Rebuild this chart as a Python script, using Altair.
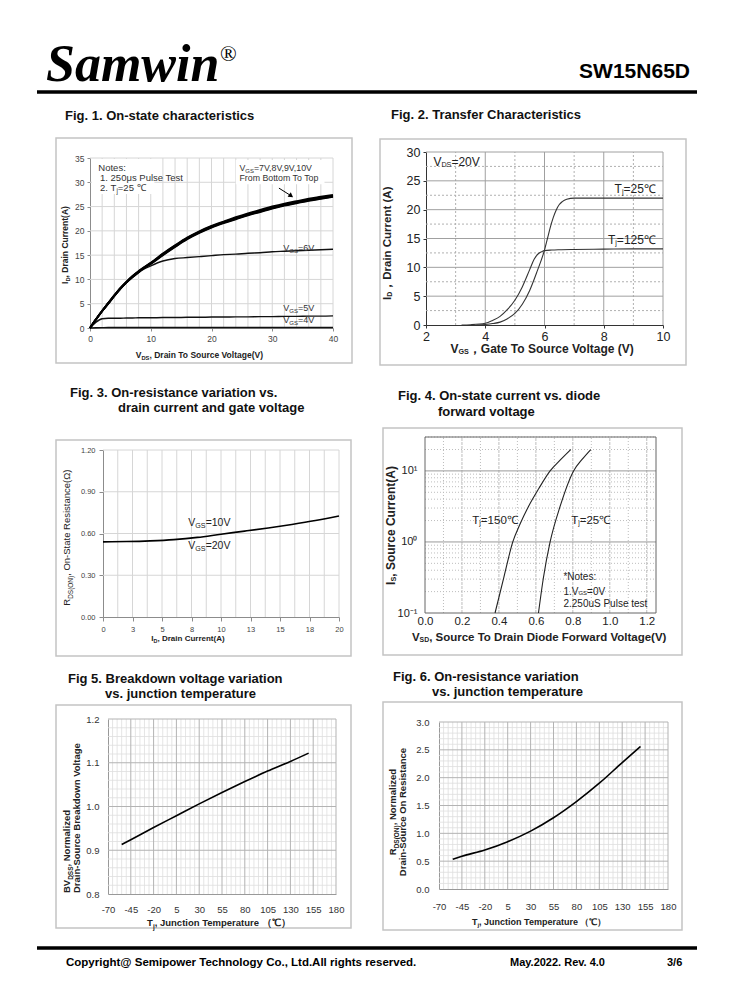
import altair as alt
import pandas as pd

FONT = "Liberation Sans"
SERIF = "Liberation Serif"

# ---------------- Fig. 1  On-state characteristics ----------------
VDS = [0, 1, 2, 3, 4, 5, 6, 7, 8, 9, 10, 12, 14, 16, 18, 20, 22, 24, 26, 28, 30, 32, 34, 36, 38, 40]
ID_VGS10 = [0, 1.8, 3.5, 5.1, 6.7, 8.2, 9.5, 10.7, 11.7, 12.6, 13.4, 15.3, 17.0, 18.6, 19.9, 21.0, 21.9, 22.8, 23.6, 24.3, 25.0, 25.6, 26.1, 26.6, 27.0, 27.4]
ID_VGS9 = [0, 1.8, 3.5, 5.1, 6.7, 8.2, 9.5, 10.6, 11.6, 12.5, 13.3, 15.2, 16.9, 18.5, 19.8, 20.9, 21.8, 22.6, 23.4, 24.1, 24.8, 25.4, 25.9, 26.4, 26.8, 27.2]
ID_VGS8 = [0, 1.8, 3.5, 5.1, 6.6, 8.1, 9.4, 10.6, 11.6, 12.5, 13.3, 15.1, 16.8, 18.4, 19.7, 20.8, 21.7, 22.5, 23.3, 24.0, 24.7, 25.3, 25.8, 26.3, 26.7, 27.1]
ID_VGS7 = [0, 1.8, 3.5, 5.0, 6.6, 8.1, 9.4, 10.5, 11.5, 12.4, 13.2, 15.0, 16.7, 18.3, 19.6, 20.7, 21.6, 22.4, 23.2, 23.9, 24.6, 25.2, 25.7, 26.2, 26.6, 27.0]
ID_VGS6 = [0, 1.8, 3.5, 5.0, 6.6, 8.0, 9.3, 10.4, 11.4, 12.2, 12.8, 13.8, 14.3, 14.5, 14.7, 14.9, 15.1, 15.2, 15.4, 15.5, 15.7, 15.8, 15.9, 16.0, 16.1, 16.2]
ID_VGS5 = [0, 1.2, 1.9, 2.0, 2.0, 2.0, 2.05, 2.05, 2.1, 2.1, 2.1, 2.15, 2.15, 2.2, 2.2, 2.25, 2.25, 2.3, 2.3, 2.35, 2.35, 2.4, 2.4, 2.45, 2.45, 2.5]
ID_VGS4 = [0, 0.05, 0.08, 0.1, 0.1, 0.1, 0.1, 0.1, 0.1, 0.1, 0.1, 0.1, 0.1, 0.1, 0.1, 0.1, 0.1, 0.1, 0.1, 0.1, 0.1, 0.1, 0.1, 0.1, 0.1, 0.1]
F1_XTICKS = [0, 10, 20, 30, 40]
F1_YTICKS = [0, 5, 10, 15, 20, 25, 30, 35]
F1_XGRID = [2, 4, 6, 8, 10, 12, 14, 16, 18, 20, 22, 24, 26, 28, 30, 32, 34, 36, 38, 40]
F1_YGRID = [5, 10, 15, 20, 25, 30, 35]

# ---------------- Fig. 2  Transfer characteristics ----------------
VGS_25C = [3.7, 4.0, 4.25, 4.5, 4.75, 5.0, 5.25, 5.5, 5.75, 6.0, 6.1, 6.2, 6.3, 6.4, 6.5, 6.6, 6.75, 7.0, 7.5, 8.0, 9.0, 10.0]
ID_25C = [0, 0.1, 0.25, 0.5, 1.1, 2.0, 3.6, 6.0, 9.3, 13.0, 15.0, 17.0, 18.7, 20.0, 20.9, 21.4, 21.8, 22.0, 22.0, 22.0, 22.0, 22.0]
VGS_125C = [3.2, 3.5, 4.0, 4.25, 4.5, 4.75, 5.0, 5.25, 5.5, 5.65, 5.8, 5.9, 6.0, 6.25, 6.5, 7.0, 8.0, 9.0, 10.0]
ID_125C = [0, 0.05, 0.3, 0.8, 1.5, 2.7, 4.3, 6.6, 9.6, 11.4, 12.4, 12.7, 12.9, 13.0, 13.05, 13.1, 13.15, 13.2, 13.2]
F2_XTICKS = [2, 4, 6, 8, 10]
F2_YTICKS = [0, 5, 10, 15, 20, 25, 30]
F2_XMAJOR = [4, 6, 8, 10]
F2_XMINOR = [3, 5, 7, 9]
F2_YMAJOR = [5, 10, 15, 20, 25, 30]
F2_YMINOR = [2.5, 7.5, 12.5, 17.5, 22.5, 27.5]

# ---------------- Fig. 3  On-resistance vs drain current ----------------
ID3 = [0, 2, 4, 6, 8, 10, 12, 14, 16, 18, 20]
RDS3 = [0.540, 0.542, 0.547, 0.556, 0.572, 0.595, 0.617, 0.640, 0.665, 0.693, 0.726]
F3_XTICKS = [0, 2.5, 5, 7.5, 10, 12.5, 15, 17.5, 20]
F3_YTICKS = [0, 0.3, 0.6, 0.9, 1.2]
F3_XGRID = [1.25, 2.5, 3.75, 5, 6.25, 7.5, 8.75, 10, 11.25, 12.5, 13.75, 15, 16.25, 17.5, 18.75, 20]
F3_YGRID = [0.3, 0.6, 0.9, 1.2]

# ---------------- Fig. 4  Diode forward voltage ----------------
VSD_150C = [0.379, 0.427, 0.475, 0.515, 0.56, 0.615, 0.677, 0.735, 0.789]
IS_150C = [0.1, 0.32, 1.0, 1.8, 3.16, 5.6, 10.0, 14.5, 20.0]
VSD_25C = [0.614, 0.641, 0.677, 0.731, 0.804, 0.85, 0.897]
IS_25C = [0.1, 0.316, 1.0, 3.16, 10.0, 14.5, 20.0]
F4_XTICKS = [0, 0.2, 0.4, 0.6, 0.8, 1.0, 1.2]
F4_YTICKS = [0.1, 1, 10]
F4_XMAJOR = [0.2, 0.4, 0.6, 0.8, 1.0, 1.2]
F4_XMINOR = [0.1, 0.3, 0.5, 0.7, 0.9, 1.1]
F4_YMAJOR = [1, 10]
F4_YMINOR = [0.2, 0.3, 0.4, 0.5, 0.6, 0.7, 0.8, 0.9, 2, 3, 4, 5, 6, 7, 8, 9, 20, 30]

# ---------------- Fig. 5 / Fig. 6  vs junction temperature ----------------
TJ = [-55, -45, -20, 5, 30, 55, 80, 105, 130, 150]
BV_NORM = [0.913, 0.924, 0.952, 0.979, 1.006, 1.032, 1.057, 1.081, 1.103, 1.122]
RDS_NORM = [0.535, 0.59, 0.70, 0.85, 1.04, 1.28, 1.57, 1.90, 2.27, 2.56]
T_TICKS = [-70, -45, -20, 5, 30, 55, 80, 105, 130, 155, 180]
T_MAJOR = [-45, -20, 5, 30, 55, 80, 105, 130, 155, 180]
T_MINOR = [t for t in range(-65, 180, 5) if (t + 70) % 25 != 0]
F5_YTICKS = [0.8, 0.9, 1.0, 1.1, 1.2]
F5_YMAJOR = [0.9, 1.0, 1.1, 1.2]
F5_YMINOR = [0.82, 0.84, 0.86, 0.88, 0.92, 0.94, 0.96, 0.98, 1.02, 1.04, 1.06, 1.08, 1.12, 1.14, 1.16, 1.18]
F6_YTICKS = [0, 0.5, 1.0, 1.5, 2.0, 2.5, 3.0]
F6_YMAJOR = [0.5, 1.0, 1.5, 2.0, 2.5, 3.0]
F6_YMINOR = [0.1, 0.2, 0.3, 0.4, 0.6, 0.7, 0.8, 0.9, 1.1, 1.2, 1.3, 1.4, 1.6, 1.7, 1.8, 1.9, 2.1, 2.2, 2.3, 2.4, 2.6, 2.7, 2.8, 2.9]

ONE = pd.DataFrame({"k": [0]})

# ---------- text width table (Arial metrics) for composed sub-scripted text ----------
REG_W, BOLD_W = {}, {}
for chars, w in [("ijl", .222), (" !,./:ftI", .278), ("()-r", .333), ("ckvxyzsJ", .5),
                 ("0123456789abdeghnopquLμ", .556), ("=+", .584), ("FTZ", .611),
                 ("ABEKPSVXY", .667), ("CDHNRUw", .722), ("GOQ", .778), ("Mm", .833),
                 ("W", .944), ("@", 1.015), ("Ω", .768), ("*", .389)]:
    for ch in chars:
        REG_W[ch] = w
for chars, w in [(" !,.:/iljI", .278), ("()-ft", .333), ("r*", .389), ("z", .5),
                 ("0123456789aceksvxyJ", .556), ("=+", .584), ("bdghnopquFLTZ", .611),
                 ("EPSVXY", .667), ("ABCDHKNRU", .722), ("GOQw", .778), ("M", .833),
                 ("m", .889), ("W", .944), ("@", .975), ("Ω", .768)]:
    for ch in chars:
        BOLD_W[ch] = w


def text_w(s, size, bold):
    tbl = BOLD_W if bold else REG_W
    return size * sum(tbl.get(ch, 1.0 if ord(ch) > 0x2000 else 0.58) for ch in s)


def rich(parts, size, src, enc, bold=False, color="#222", align="left", angle=None,
         sub=0.68, subdy=0.22, font=FONT):
    sizes = [size * (sub if s else 1.0) for _, s in parts]
    widths = [text_w(t, fs, bold) for (t, _), fs in zip(parts, sizes)]
    total = sum(widths)
    off = {"left": 0.0, "center": -total / 2, "right": -total}[align]
    out = []
    for (t, s), fs, w in zip(parts, sizes, widths):
        kw = dict(text=t, align="left", baseline="alphabetic", dx=round(off, 2),
                  dy=round(0.36 * size + (subdy * size if s else 0), 2), fontSize=round(fs, 2),
                  font=font, color=color, fontWeight="bold" if bold else "normal")
        if angle is not None:
            kw["angle"] = angle
        out.append(alt.Chart(src).mark_text(**kw).encode(**enc))
        off += w
    return out


class Panel:
    """Scales and axes shared by every layer of one figure (identical axis specs merge cleanly)."""

    def __init__(self, xdom, xrng, ydom, yrng, ax, ay, ytype=None):
        self.sx = alt.Scale(domain=xdom, range=xrng, nice=False, zero=False)
        if ytype:
            self.sy = alt.Scale(type=ytype, domain=ydom, range=yrng, nice=False)
        else:
            self.sy = alt.Scale(domain=ydom, range=yrng, nice=False, zero=False)
        self.ax, self.ay = ax, ay

    def X(self, f="x"):
        return alt.X(f"{f}:Q", scale=self.sx, axis=self.ax)

    def Y(self, f="y"):
        return alt.Y(f"{f}:Q", scale=self.sy, axis=self.ay)


def plab(parts, size, x, y, **kw):
    return rich(parts, size, ONE, {"x": alt.value(x), "y": alt.value(y)}, **kw)


def dlab(P, parts, size, x, y, **kw):
    src = pd.DataFrame({"x": [x], "y": [y]})
    return rich(parts, size, src, {"x": P.X(), "y": P.Y()}, **kw)


def frame(x0, y0, x1, y1):
    return alt.Chart(ONE).mark_rect(fillOpacity=0, stroke="#c4c4c4", strokeWidth=1.5).encode(
        x=alt.value(x0), x2=alt.value(x1), y=alt.value(y0), y2=alt.value(y1))


def vgrid(P, vals, ylo, yhi, color, width=1.0, dash=None):
    kw = dict(color=color, strokeWidth=width)
    if dash:
        kw["strokeDash"] = dash
    df = pd.DataFrame({"x": vals, "y": [ylo] * len(vals), "y2": [yhi] * len(vals)})
    return alt.Chart(df).mark_rule(**kw).encode(x=P.X(), y=P.Y(), y2="y2")


def hgrid(P, vals, xlo, xhi, color, width=1.0, dash=None):
    kw = dict(color=color, strokeWidth=width)
    if dash:
        kw["strokeDash"] = dash
    df = pd.DataFrame({"y": vals, "x": [xlo] * len(vals), "x2": [xhi] * len(vals)})
    return alt.Chart(df).mark_rule(**kw).encode(y=P.Y(), x=P.X(), x2="x2")


def dbox(P, x0, x1, y0, y1, fill="white", stroke=None):
    kw = dict(color=fill) if stroke is None else dict(fillOpacity=0, stroke=stroke, strokeWidth=1)
    df = pd.DataFrame({"x": [x0], "x2": [x1], "y": [y0], "y2": [y1]})
    return alt.Chart(df).mark_rect(**kw).encode(x=P.X(), x2="x2", y=P.Y(), y2="y2")


def lines(P, pairs, color, width):
    rows = []
    for name, xs, ys in pairs:
        rows += [{"x": a, "y": b, "s": name} for a, b in zip(xs, ys)]
    return alt.Chart(pd.DataFrame(rows)).mark_line(
        color=color, strokeWidth=width, interpolate="monotone").encode(
        x=P.X(), y=P.Y(), detail="s:N")


def axis(values, size, color, dcolor, tick, pad, offset, fmt=None, expr=None, domain=True):
    kw = dict(values=values, title=None, grid=False, labelFont=FONT, labelFontSize=size,
              labelColor=color, tickColor=dcolor, tickSize=tick, labelPadding=pad,
              domainColor=dcolor, labelFlush=False, labelOverlap=False, offset=offset)
    if tick == 0:
        kw["ticks"] = False
    if fmt:
        kw["format"] = fmt
    if expr:
        kw["labelExpr"] = expr
    if not domain:
        kw["domain"] = False
    return alt.Axis(**kw)


TITLE = 13
LW, RW = 360, 362          # column cell widths
H1, H2, H3 = 270, 295, 275  # row cell heights
PLAIN = "'' + datum.value"  # hyphen minus for negative temperatures

# ======================= Fig. 1 =======================
P = Panel([0, 40], [82, 325], [0, 35], [228, 58],
          axis(F1_XTICKS, 8.5, "#444", "#8c8c8c", 3, 3, 228 - H1),
          axis(F1_YTICKS, 8.5, "#444", "#8c8c8c", 3, 3, -82))
L1 = [frame(48, 38, 344, 263)]
L1 += plab([("Fig. 1. On-state characteristics", 0)], TITLE, 57, 15, bold=True, color="#111")
L1 += [vgrid(P, F1_XGRID, 0, 35, "#d6d6d6"), hgrid(P, F1_YGRID, 0, 40, "#d6d6d6")]
L1 += [dbox(P, 0.3, 10.6, 27.6, 34.8), dbox(P, 24.0, 38.6, 29.6, 34.6)]
L1 += [lines(P, [("4V", VDS, ID_VGS4), ("5V", VDS, ID_VGS5), ("6V", VDS, ID_VGS6)], "#111", 1.4)]
L1 += [lines(P, [("7V", VDS, ID_VGS7), ("8V", VDS, ID_VGS8), ("9V", VDS, ID_VGS9),
                 ("10V", VDS, ID_VGS10)], "#000", 2.0)]
L1 += dlab(P, [("Notes:", 0)], 9.5, 1.37, 33.1, color="#333")
L1 += dlab(P, [("1. 250μs  Pulse Test", 0)], 9.5, 1.65, 31.0, color="#333")
L1 += dlab(P, [("2. T", 0), ("j", 1), ("=25 ℃", 0)], 9.5, 1.65, 28.9, color="#333")
L1 += dlab(P, [("V", 0), ("GS", 1), ("=7V,8V,9V,10V", 0)], 8.8, 24.6, 33.0, color="#333")
L1 += dlab(P, [("From Bottom To Top", 0)], 8.8, 24.6, 30.9, color="#333")
L1 += [alt.Chart(pd.DataFrame({"x": [31.1], "y": [28.8], "x2": [33.0], "y2": [27.3]})).mark_rule(
    color="#000", strokeWidth=1).encode(x=P.X(), x2="x2", y=P.Y(), y2="y2"),
       alt.Chart(pd.DataFrame({"x": [33.0], "y": [27.3]})).mark_point(
    shape="triangle", filled=True, size=30, angle=125, color="#000", opacity=1).encode(x=P.X(), y=P.Y())]
L1 += dlab(P, [("V", 0), ("GS", 1), ("=6V", 0)], 9, 31.8, 16.6, color="#333")
L1 += dlab(P, [("V", 0), ("GS", 1), ("=5V", 0)], 9, 31.8, 4.2, color="#333")
L1 += dlab(P, [("V", 0), ("GS", 1), ("=4V", 0)], 9, 31.8, 1.65, color="#333")
L1 += plab([("V", 0), ("DS", 1), (", Drain To Source Voltage(V)", 0)], 8.5, 192, 255, bold=True, align="center")
L1 += plab([("I", 0), ("D", 1), (", Drain Current(A)", 0)], 8.5, 57, 145, bold=True, align="center", angle=270)
P1 = alt.layer(*L1).properties(width=LW, height=H1)

# ======================= Fig. 2 =======================
P = Panel([2, 10], [58, 295], [0, 30], [225, 52],
          axis(F2_XTICKS, 12.5, "#222", "#333", 3, 2, 225 - H1),
          axis(F2_YTICKS, 12.5, "#222", "#333", 3, 3, -58))
L2 = [frame(12, 39, 318, 265)]
L2 += plab([("Fig. 2. Transfer Characteristics", 0)], TITLE, 23, 14, bold=True, color="#111")
L2 += [vgrid(P, F2_XMINOR, 0, 30, "#b0b0b0", 1, [2, 2]), hgrid(P, F2_YMINOR, 2, 10, "#b0b0b0", 1, [2, 2]),
       vgrid(P, F2_XMAJOR, 0, 30, "#a0a0a0"), hgrid(P, F2_YMAJOR, 2, 10, "#a0a0a0")]
L2 += [lines(P, [("25C", VGS_25C, ID_25C), ("125C", VGS_125C, ID_125C)], "#333", 1.1)]
L2 += dlab(P, [("V", 0), ("DS", 1), ("=20V", 0)], 12, 2.25, 28.3, sub=0.6, subdy=0.05)
L2 += dlab(P, [("T", 0), ("j", 1), ("=25℃", 0)], 12, 9.76, 23.7, align="right", sub=0.6, subdy=0.1)
L2 += dlab(P, [("T", 0), ("j", 1), ("=125℃", 0)], 12, 9.76, 14.86, align="right", sub=0.6, subdy=0.1)
L2 += plab([("V", 0), ("GS", 1), ("，Gate To Source Voltage (V)", 0)], 12, 175, 249, bold=True,
           align="center", sub=0.6, subdy=0.05)
L2 += plab([("I", 0), ("D", 1), ("，Drain Current (A)", 0)], 11.5, 19, 143.5, bold=True,
           align="center", angle=270, sub=0.6, subdy=0.05)
P2 = alt.layer(*L2).properties(width=RW, height=H1)

# ======================= Fig. 3 =======================
P = Panel([0, 20], [95, 331], [0, 1.2], [247, 80],
          axis(F3_XTICKS, 7.5, "#444", "#8c8c8c", 4, 4, 247 - H2, fmt=".0f"),
          axis(F3_YTICKS, 7.5, "#444", "#8c8c8c", 4, 4, -95, fmt=".2f"))
L3 = [frame(48, 70, 343, 286)]
L3 += plab([("Fig. 3. On-resistance variation vs.", 0)], TITLE, 62, 22, bold=True, color="#111")
L3 += plab([("drain current and gate voltage", 0)], TITLE, 110, 37, bold=True, color="#111")
L3 += [vgrid(P, F3_XGRID, 0, 1.2, "#d6d6d6"), hgrid(P, F3_YGRID, 0, 20, "#d6d6d6")]
L3 += [lines(P, [("10V", ID3, RDS3)], "#000", 1.6)]
L3 += dlab(P, [("V", 0), ("GS", 1), ("=10V", 0)], 10.5, 7.23, 0.680)
L3 += dlab(P, [("V", 0), ("GS", 1), ("=20V", 0)], 10.5, 7.23, 0.517)
L3 += plab([("I", 0), ("D", 1), (", Drain Current(A)", 0)], 8, 180, 268, bold=True, align="center")
L3 += plab([("R", 0), ("DS(ON)", 1), (", On-State Resistance(Ω)", 0)], 9.5, 59, 167.5,
           align="center", angle=270)
P3 = alt.layer(*L3).properties(width=LW, height=H2)

# ======================= Fig. 4 =======================
P = Panel([0, 1.25], [57, 288], [0.1, 30], [243, 67],
          axis(F4_XTICKS, 11.5, "#222", "#666", 0, 2, 243 - H2, fmt=".1f", domain=False),
          axis(F4_YTICKS, 11, "#222", "#666", 0, 8, -57, domain=False,
               expr="datum.value >= 10 ? '10¹' : (datum.value >= 1 ? '10⁰' : '10⁻¹')"),
          ytype="log")
L4 = [frame(15, 58, 314, 285)]
L4 += plab([("Fig. 4. On-state current vs. diode", 0)], TITLE, 30, 25, bold=True, color="#111")
L4 += plab([("forward voltage", 0)], TITLE, 70, 41, bold=True, color="#111")
L4 += [vgrid(P, F4_XMINOR, 0.1, 30, "#bdbdbd", 1, [1, 2]), hgrid(P, F4_YMINOR, 0, 1.25, "#bdbdbd", 1, [1, 2]),
       vgrid(P, F4_XMAJOR, 0.1, 30, "#bdbdbd", 1, [3, 1]), hgrid(P, F4_YMAJOR, 0, 1.25, "#9a9a9a")]
L4 += [dbox(P, 0, 1.25, 0.1, 30, stroke="#666")]
L4 += [lines(P, [("150C", VSD_150C, IS_150C), ("25C", VSD_25C, IS_25C)], "#222", 1.1)]
L4 += dlab(P, [("T", 0), ("j", 1), ("=150℃", 0)], 11.5, 0.256, 2.06, sub=0.6, subdy=0.1)
L4 += dlab(P, [("T", 0), ("j", 1), ("=25℃", 0)], 11.5, 0.791, 2.06, sub=0.6, subdy=0.1)
L4 += dlab(P, [("*Notes:", 0)], 10, 0.749, 0.324)
L4 += dlab(P, [("1.V", 0), ("GS", 1), ("=0V", 0)], 10, 0.749, 0.203, sub=0.6, subdy=0.05)
L4 += dlab(P, [("2.250uS Pulse test", 0)], 10, 0.749, 0.135)
L4 += plab([("V", 0), ("SD", 1), (", Source To Drain Diode Forward Voltage(V)", 0)], 11.5, 172, 267,
           bold=True, align="center", sub=0.6, subdy=0.05)
L4 += plab([("I", 0), ("S", 1), (", Source Current(A)", 0)], 12, 23, 155.5, bold=True,
           align="center", angle=270, sub=0.6, subdy=0.05)
P4 = alt.layer(*L4).properties(width=RW, height=H2)

# ======================= Fig. 5 =======================
P = Panel([-70, 180], [100, 328], [0.8, 1.2], [229, 54],
          axis(T_TICKS, 9.5, "#333", "#999", 0, 10, 229 - H3, expr=PLAIN),
          axis(F5_YTICKS, 9.5, "#333", "#999", 0, 9, -100, fmt=".1f"))
L5 = [frame(48, 40, 343, 263)]
L5 += plab([("Fig 5. Breakdown voltage variation", 0)], TITLE, 60, 13, bold=True, color="#111")
L5 += plab([("vs. junction temperature", 0)], TITLE, 97, 28, bold=True, color="#111")
L5 += [vgrid(P, T_MINOR, 0.8, 1.2, "#dedede", 0.8), hgrid(P, F5_YMINOR, -70, 180, "#dedede", 0.8),
       vgrid(P, T_MAJOR, 0.8, 1.2, "#b3b3b3"), hgrid(P, F5_YMAJOR, -70, 180, "#b3b3b3")]
L5 += [lines(P, [("BV", TJ, BV_NORM)], "#000", 1.6)]
L5 += plab([("T", 0), ("j", 1), (", Junction Temperature （℃）", 0)], 9.5, 211, 258, bold=True, align="center")
L5 += plab([("BV", 0), ("DSS", 1), (", Normalized", 0)], 9.5, 59, 228, bold=True, angle=270)
L5 += plab([("Drain-Source Breakdown Voltage", 0)], 9.5, 69, 228, bold=True, angle=270)
P5 = alt.layer(*L5).properties(width=LW, height=H3)

# ======================= Fig. 6 =======================
P = Panel([-70, 180], [71, 300], [0, 3], [224, 57],
          axis(T_TICKS, 9.5, "#333", "#999", 0, 12, 224 - H3, expr=PLAIN),
          axis(F6_YTICKS, 9.5, "#333", "#999", 0, 10, -71, fmt=".1f"))
L6 = [frame(15, 37, 314, 265)]
L6 += plab([("Fig. 6. On-resistance variation", 0)], TITLE, 25, 11, bold=True, color="#111")
L6 += plab([("vs. junction temperature", 0)], TITLE, 64, 26, bold=True, color="#111")
L6 += [vgrid(P, T_MINOR, 0, 3, "#dedede", 0.8), hgrid(P, F6_YMINOR, -70, 180, "#dedede", 0.8),
       vgrid(P, T_MAJOR, 0, 3, "#b3b3b3"), hgrid(P, F6_YMAJOR, -70, 180, "#b3b3b3")]
L6 += [lines(P, [("R", TJ, RDS_NORM)], "#000", 1.6)]
L6 += plab([("T", 0), ("j", 1), (", Junction Temperature （℃）", 0)], 9, 172, 257, bold=True, align="center")
L6 += plab([("R", 0), ("DS(ON)", 1), (", Normalized", 0)], 9.5, 25, 147, bold=True, align="center", angle=270)
L6 += plab([("Drain-Source On Resistance", 0)], 9.5, 35, 147, bold=True, align="center", angle=270)
P6 = alt.layer(*L6).properties(width=RW, height=H3)

# ======================= header / footer =======================
HEAD = [
    alt.Chart(ONE).mark_text(text="Samwin", font=SERIF, fontSize=52, fontWeight="bold",
                             fontStyle="italic", align="left", baseline="alphabetic",
                             color="#000").encode(x=alt.value(38), y=alt.value(73)),
    alt.Chart(ONE).mark_text(text="®", font=SERIF, fontSize=22, align="left",
                             baseline="alphabetic", color="#000").encode(x=alt.value(212), y=alt.value(53)),
    alt.Chart(ONE).mark_text(text="SW15N65D", font=FONT, fontSize=21, fontWeight="bold",
                             align="right", baseline="alphabetic", color="#000").encode(
        x=alt.value(682), y=alt.value(70)),
    alt.Chart(ONE).mark_rule(color="#000", strokeWidth=3.5).encode(
        x=alt.value(29), x2=alt.value(689), y=alt.value(84)),
]
header = alt.layer(*HEAD).properties(width=722, height=92)

FOOT = [
    alt.Chart(ONE).mark_rule(color="#000", strokeWidth=3.5).encode(
        x=alt.value(29), x2=alt.value(689), y=alt.value(8)),
    alt.Chart(ONE).mark_text(text="Copyright@ Semipower Technology Co., Ltd.All rights reserved.",
                             font=FONT, fontSize=11.5, fontWeight="bold", align="left",
                             baseline="alphabetic", color="#000").encode(x=alt.value(58), y=alt.value(26)),
    alt.Chart(ONE).mark_text(text="May.2022. Rev. 4.0", font=FONT, fontSize=11, fontWeight="bold",
                             align="left", baseline="alphabetic", color="#000").encode(
        x=alt.value(502), y=alt.value(26)),
    alt.Chart(ONE).mark_text(text="3/6", font=FONT, fontSize=11, fontWeight="bold", align="left",
                             baseline="alphabetic", color="#000").encode(x=alt.value(659), y=alt.value(26)),
]
footer = alt.layer(*FOOT).properties(width=722, height=54)

row1 = alt.hconcat(P1, P2, spacing=0)
row2 = alt.hconcat(P3, P4, spacing=0)
row3 = alt.hconcat(P5, P6, spacing=0)

chart = alt.vconcat(header, row1, row2, row3, footer, spacing=0).properties(
    padding=0, background="white").configure_view(stroke=None)

chart.save("out.html", embed_options={"renderer": "svg", "actions": False})
